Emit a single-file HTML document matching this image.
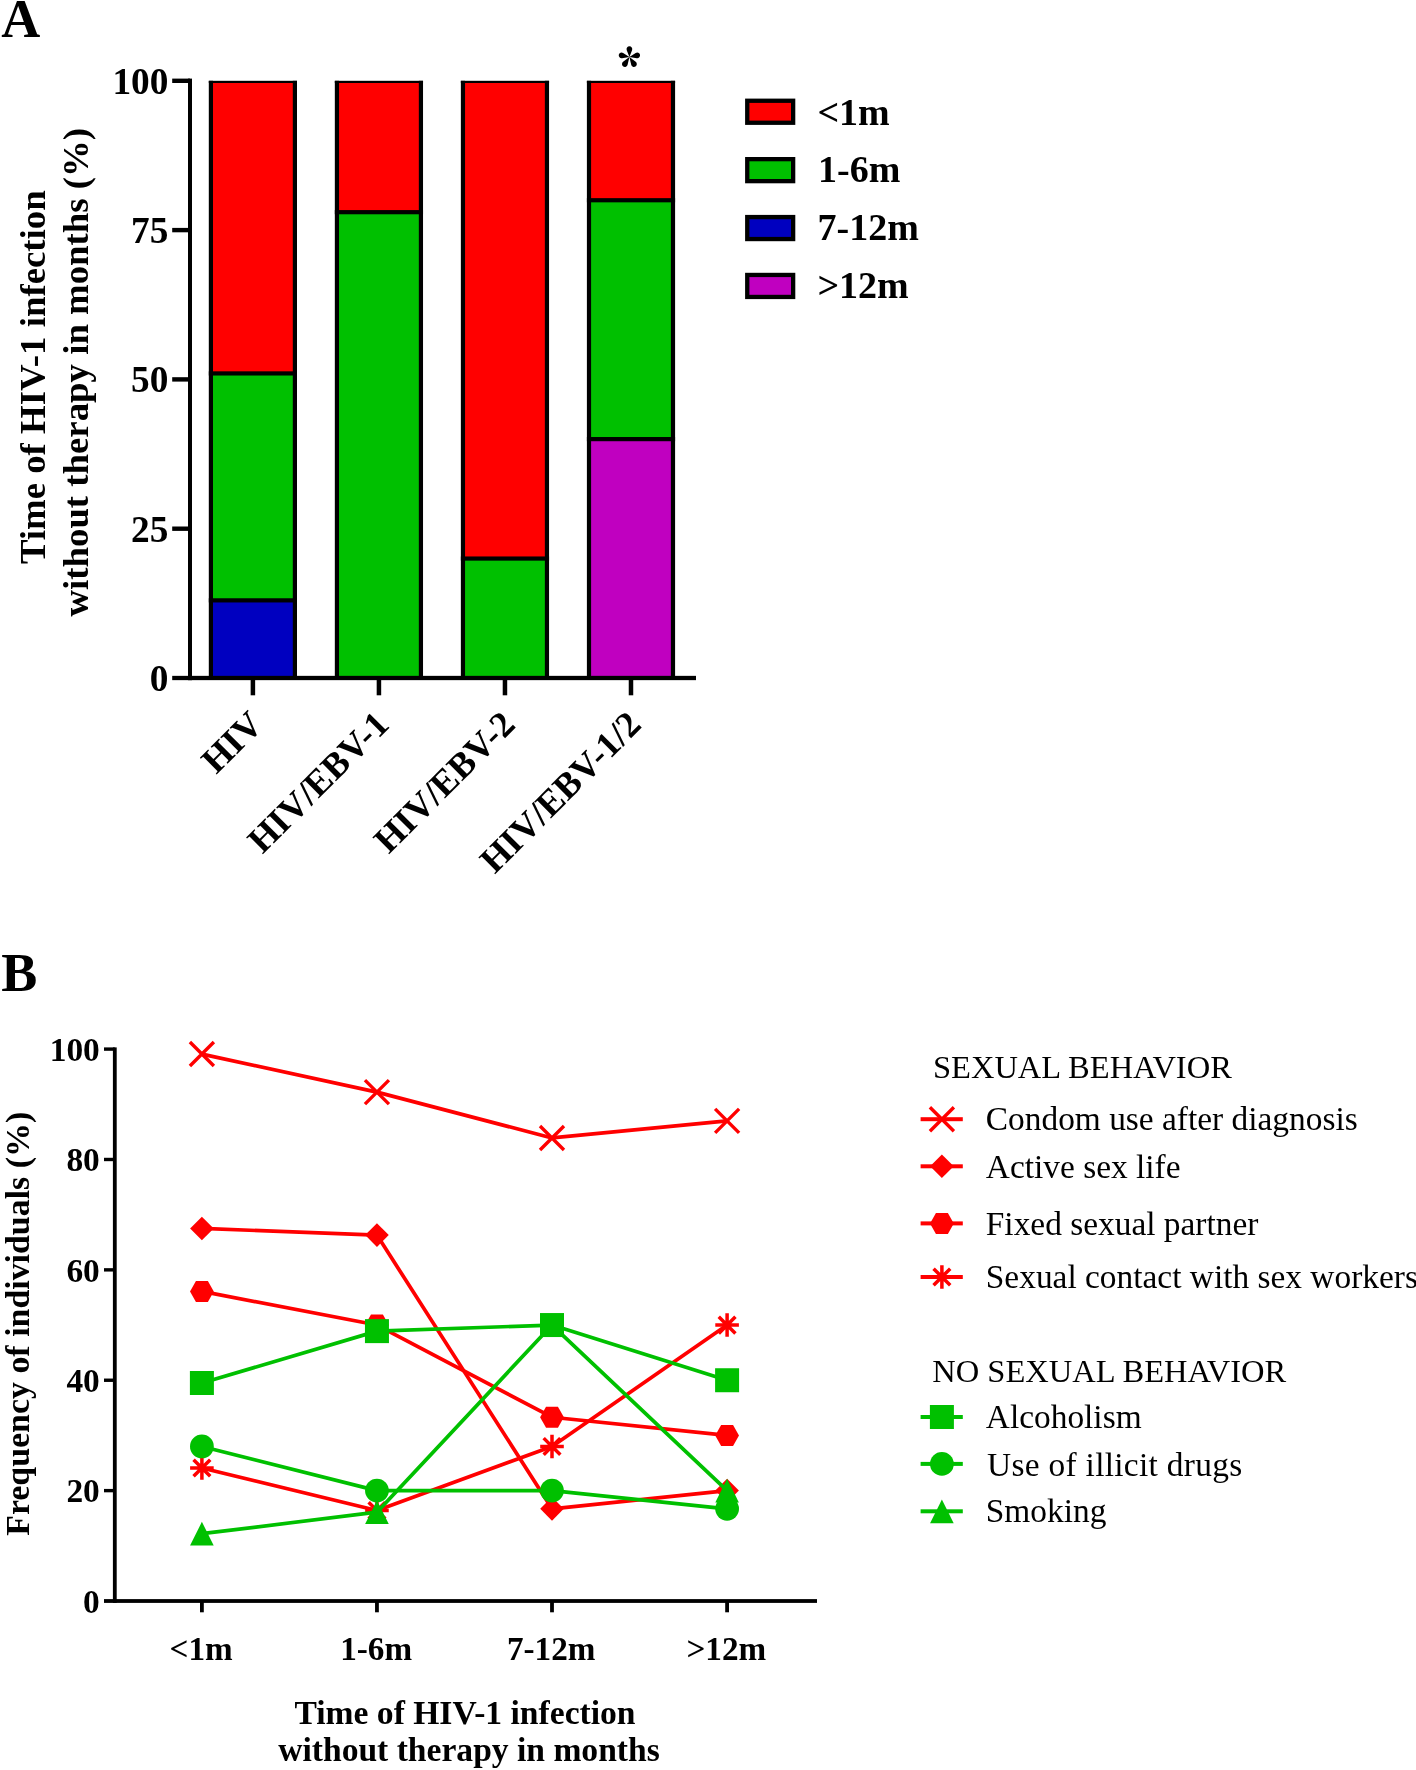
<!DOCTYPE html>
<html>
<head>
<meta charset="utf-8">
<style>
html,body{margin:0;padding:0;background:#fff;}
body{width:1416px;height:1770px;overflow:hidden;}
svg{display:block;will-change:transform;}
text{font-family:"Liberation Serif",serif;}
.b{font-weight:bold;}
</style>
</head>
<body>
<svg width="1416" height="1770" viewBox="0 0 1416 1770">
<text class="b" x="1.3" y="37.4" font-size="54">A</text>
<g font-size="36.8" text-anchor="middle">
<text class="b" transform="translate(44.7,377.2) rotate(-90)">Time of HIV-1 infection</text>
<text class="b" transform="translate(87.6,372.2) rotate(-90)">without therapy in months (%)</text>
</g>
<g font-size="37.3" text-anchor="end">
<text class="b" x="168.4" y="93.8">100</text>
<text class="b" x="168.4" y="243.1">75</text>
<text class="b" x="168.4" y="392.4">50</text>
<text class="b" x="168.4" y="541.7">25</text>
<text class="b" x="168.4" y="691.0">0</text>
</g>
<rect x="209.80" y="600.36" width="86.20" height="77.64" fill="#0000c0"/>
<rect x="209.80" y="373.43" width="86.20" height="226.94" fill="#00c000"/>
<rect x="209.80" y="82.30" width="86.20" height="291.13" fill="#ff0000"/>
<rect x="208.80" y="80.80" width="4.20" height="597.20" fill="#000"/>
<rect x="292.80" y="80.80" width="4.20" height="597.20" fill="#000"/>
<rect x="208.80" y="80.80" width="88.20" height="2.20" fill="#000"/>
<rect x="208.80" y="598.26" width="88.20" height="4.20" fill="#000"/>
<rect x="208.80" y="371.33" width="88.20" height="4.20" fill="#000"/>
<rect x="335.83" y="212.18" width="86.20" height="465.82" fill="#00c000"/>
<rect x="335.83" y="82.30" width="86.20" height="129.88" fill="#ff0000"/>
<rect x="334.83" y="80.80" width="4.20" height="597.20" fill="#000"/>
<rect x="418.83" y="80.80" width="4.20" height="597.20" fill="#000"/>
<rect x="334.83" y="80.80" width="88.20" height="2.20" fill="#000"/>
<rect x="334.83" y="210.08" width="88.20" height="4.20" fill="#000"/>
<rect x="461.86" y="558.56" width="86.20" height="119.44" fill="#00c000"/>
<rect x="461.86" y="82.30" width="86.20" height="476.26" fill="#ff0000"/>
<rect x="460.86" y="80.80" width="4.20" height="597.20" fill="#000"/>
<rect x="544.86" y="80.80" width="4.20" height="597.20" fill="#000"/>
<rect x="460.86" y="80.80" width="88.20" height="2.20" fill="#000"/>
<rect x="460.86" y="556.46" width="88.20" height="4.20" fill="#000"/>
<rect x="587.89" y="439.12" width="86.20" height="238.88" fill="#c000c0"/>
<rect x="587.89" y="200.24" width="86.20" height="238.88" fill="#00c000"/>
<rect x="587.89" y="82.30" width="86.20" height="117.94" fill="#ff0000"/>
<rect x="586.89" y="80.80" width="4.20" height="597.20" fill="#000"/>
<rect x="670.89" y="80.80" width="4.20" height="597.20" fill="#000"/>
<rect x="586.89" y="80.80" width="88.20" height="2.20" fill="#000"/>
<rect x="586.89" y="437.02" width="88.20" height="4.20" fill="#000"/>
<rect x="586.89" y="198.14" width="88.20" height="4.20" fill="#000"/>
<g fill="#000">
<rect x="188.00" y="78.60" width="4.00" height="601.60"/>
<rect x="172.2" y="78.60" width="17.80" height="4.4"/>
<rect x="172.2" y="227.90" width="17.80" height="4.4"/>
<rect x="172.2" y="377.20" width="17.80" height="4.4"/>
<rect x="172.2" y="526.50" width="17.80" height="4.4"/>
<rect x="172.2" y="675.85" width="523.80" height="4.3"/>
<rect x="250.65" y="678.00" width="4.5" height="17.30"/>
<rect x="376.68" y="678.00" width="4.5" height="17.30"/>
<rect x="502.71" y="678.00" width="4.5" height="17.30"/>
<rect x="628.74" y="678.00" width="4.5" height="17.30"/>
</g>
<path d="M629.40 57.00L626.74 50.18A2.85 2.85 0 1 1 632.06 50.18ZM629.40 57.00L635.68 52.94A2.85 2.85 0 1 1 636.79 58.15ZM629.40 57.00L622.01 58.15A2.85 2.85 0 1 1 623.12 52.94ZM629.40 57.00L635.70 61.77A2.85 2.85 0 1 1 631.20 64.69ZM629.40 57.00L627.60 64.69A2.85 2.85 0 1 1 623.10 61.77Z" fill="#000"/>
<g font-size="36.4" text-anchor="end">
<text class="b" transform="translate(264.8,726.5) rotate(-45)">HIV</text>
<text class="b" transform="translate(390.8,726.5) rotate(-45)">HIV/EBV-1</text>
<text class="b" transform="translate(516.9,726.5) rotate(-45)">HIV/EBV-2</text>
<text class="b" transform="translate(642.9,726.5) rotate(-45)">HIV/EBV-1/2</text>
</g>
<g stroke="#000" stroke-width="4.3">
<rect x="747.25" y="100.75" width="45.90" height="22.00" fill="#ff0000"/>
<rect x="747.25" y="159.15" width="45.90" height="22.00" fill="#00c000"/>
<rect x="747.25" y="217.05" width="45.90" height="22.00" fill="#0000c0"/>
<rect x="747.25" y="274.95" width="45.90" height="22.00" fill="#c000c0"/>
</g>
<g font-size="38">
<text class="b" x="817.4" y="124.5">&lt;1m</text>
<text class="b" x="818.0" y="182.0">1-6m</text>
<text class="b" x="817.5" y="240.3">7-12m</text>
<text class="b" x="817.4" y="298.3">&gt;12m</text>
</g>
<text class="b" x="1.3" y="990.5" font-size="54">B</text>
<text class="b" font-size="33.9" text-anchor="middle" transform="translate(28.9,1323.8) rotate(-90)">Frequency of individuals (%)</text>
<g font-size="33.4" text-anchor="end">
<text class="b" x="99.8" y="1060.7">100</text>
<text class="b" x="99.8" y="1171.1">80</text>
<text class="b" x="99.8" y="1281.5">60</text>
<text class="b" x="99.8" y="1391.8">40</text>
<text class="b" x="99.8" y="1502.2">20</text>
<text class="b" x="99.8" y="1612.6">0</text>
</g>
<g font-size="33.2" text-anchor="middle">
<text class="b" x="201.1" y="1660.3">&lt;1m</text>
<text class="b" x="376.1" y="1660.3">1-6m</text>
<text class="b" x="551.2" y="1660.3">7-12m</text>
<text class="b" x="726.3" y="1660.3">&gt;12m</text>
</g>
<g font-size="33.6" text-anchor="middle">
<text class="b" x="465" y="1724">Time of HIV-1 infection</text>
<text class="b" x="469" y="1760.8">without therapy in months</text>
</g>
<polyline points="201.90,1054.07 376.95,1092.15 552.00,1137.96 727.10,1120.85" stroke="#ff0000" stroke-width="3.70" fill="none" stroke-linejoin="round"/>
<path d="M189.90 1042.07L213.90 1066.07M189.90 1066.07L213.90 1042.07" stroke="#ff0000" stroke-width="3.4" fill="none"/>
<path d="M364.95 1080.15L388.95 1104.15M364.95 1104.15L388.95 1080.15" stroke="#ff0000" stroke-width="3.4" fill="none"/>
<path d="M540.00 1125.96L564.00 1149.96M540.00 1149.96L564.00 1125.96" stroke="#ff0000" stroke-width="3.4" fill="none"/>
<path d="M715.10 1108.85L739.10 1132.85M715.10 1132.85L739.10 1108.85" stroke="#ff0000" stroke-width="3.4" fill="none"/>
<polyline points="201.90,1228.47 376.95,1235.09 552.00,1508.83 727.10,1490.62" stroke="#ff0000" stroke-width="3.70" fill="none" stroke-linejoin="round"/>
<path d="M201.90 1216.67L213.70 1228.47L201.90 1240.27L190.10 1228.47Z" fill="#ff0000"/>
<path d="M376.95 1223.29L388.75 1235.09L376.95 1246.89L365.15 1235.09Z" fill="#ff0000"/>
<path d="M552.00 1497.03L563.80 1508.83L552.00 1520.63L540.20 1508.83Z" fill="#ff0000"/>
<path d="M727.10 1478.82L738.90 1490.62L727.10 1502.42L715.30 1490.62Z" fill="#ff0000"/>
<polyline points="201.90,1291.38 376.95,1325.05 552.00,1417.22 727.10,1435.43" stroke="#ff0000" stroke-width="3.70" fill="none" stroke-linejoin="round"/>
<path d="M190.00 1291.38L195.95 1280.88L207.85 1280.88L213.80 1291.38L207.85 1301.88L195.95 1301.88Z" fill="#ff0000"/>
<path d="M365.05 1325.05L371.00 1314.55L382.90 1314.55L388.85 1325.05L382.90 1335.55L371.00 1335.55Z" fill="#ff0000"/>
<path d="M540.10 1417.22L546.05 1406.72L557.95 1406.72L563.90 1417.22L557.95 1427.72L546.05 1427.72Z" fill="#ff0000"/>
<path d="M715.20 1435.43L721.15 1424.93L733.05 1424.93L739.00 1435.43L733.05 1445.93L721.15 1445.93Z" fill="#ff0000"/>
<polyline points="201.90,1467.99 376.95,1510.49 552.00,1446.47 727.10,1325.05" stroke="#ff0000" stroke-width="3.70" fill="none" stroke-linejoin="round"/>
<path d="M190.10 1467.99L213.70 1467.99M201.90 1456.19L201.90 1479.79M193.56 1459.65L210.24 1476.34M193.56 1476.34L210.24 1459.65" stroke="#ff0000" stroke-width="3.5" fill="none"/>
<path d="M365.15 1510.49L388.75 1510.49M376.95 1498.69L376.95 1522.29M368.61 1502.14L385.29 1518.83M368.61 1518.83L385.29 1502.14" stroke="#ff0000" stroke-width="3.5" fill="none"/>
<path d="M540.20 1446.47L563.80 1446.47M552.00 1434.67L552.00 1458.27M543.66 1438.12L560.34 1454.81M543.66 1454.81L560.34 1438.12" stroke="#ff0000" stroke-width="3.5" fill="none"/>
<path d="M715.30 1325.05L738.90 1325.05M727.10 1313.25L727.10 1336.85M718.76 1316.71L735.44 1333.39M718.76 1333.39L735.44 1316.71" stroke="#ff0000" stroke-width="3.5" fill="none"/>
<polyline points="201.90,1383.00 376.95,1331.12 552.00,1325.05 727.10,1380.24" stroke="#00c000" stroke-width="3.70" fill="none" stroke-linejoin="round"/>
<rect x="189.90" y="1371.00" width="24.00" height="24.00" fill="#00c000"/>
<rect x="364.95" y="1319.12" width="24.00" height="24.00" fill="#00c000"/>
<rect x="540.00" y="1313.05" width="24.00" height="24.00" fill="#00c000"/>
<rect x="715.10" y="1368.24" width="24.00" height="24.00" fill="#00c000"/>
<polyline points="201.90,1446.47 376.95,1490.62 552.00,1490.62 727.10,1508.83" stroke="#00c000" stroke-width="3.70" fill="none" stroke-linejoin="round"/>
<circle cx="201.90" cy="1446.47" r="11.9" fill="#00c000"/>
<circle cx="376.95" cy="1490.62" r="11.9" fill="#00c000"/>
<circle cx="552.00" cy="1490.62" r="11.9" fill="#00c000"/>
<circle cx="727.10" cy="1508.83" r="11.9" fill="#00c000"/>
<polyline points="201.90,1533.67 376.95,1512.14 552.00,1325.05 727.10,1490.62" stroke="#00c000" stroke-width="3.70" fill="none" stroke-linejoin="round"/>
<path d="M201.90 1521.77L213.70 1545.57L190.10 1545.57Z" fill="#00c000"/>
<path d="M376.95 1500.24L388.75 1524.04L365.15 1524.04Z" fill="#00c000"/>
<path d="M552.00 1313.15L563.80 1336.95L540.20 1336.95Z" fill="#00c000"/>
<path d="M727.10 1478.72L738.90 1502.52L715.30 1502.52Z" fill="#00c000"/>
<g fill="#000">
<rect x="112.90" y="1047.40" width="3.8" height="555.50"/>
<rect x="104" y="1047.40" width="10.80" height="3.4"/>
<rect x="104" y="1157.78" width="10.80" height="3.4"/>
<rect x="104" y="1268.16" width="10.80" height="3.4"/>
<rect x="104" y="1378.54" width="10.80" height="3.4"/>
<rect x="104" y="1488.92" width="10.80" height="3.4"/>
<rect x="104" y="1599.10" width="713.00" height="3.8"/>
<rect x="200.00" y="1601.00" width="3.8" height="11.30"/>
<rect x="375.05" y="1601.00" width="3.8" height="11.30"/>
<rect x="550.10" y="1601.00" width="3.8" height="11.30"/>
<rect x="725.20" y="1601.00" width="3.8" height="11.30"/>
</g>
<g font-size="32.5">
<text x="933" y="1078">SEXUAL BEHAVIOR</text>
<text x="932.3" y="1382.1">NO SEXUAL BEHAVIOR</text>
</g>
<g font-size="33.4">
<rect x="920.6" y="1117.20" width="42.2" height="4.0" fill="#ff0000"/>
<path d="M929.90 1107.20L953.90 1131.20M929.90 1131.20L953.90 1107.20" stroke="#ff0000" stroke-width="3.4" fill="none"/>
<text x="985.8" y="1130.1">Condom use after diagnosis</text>
<rect x="920.6" y="1164.30" width="42.2" height="4.0" fill="#ff0000"/>
<path d="M941.90 1154.50L953.70 1166.30L941.90 1178.10L930.10 1166.30Z" fill="#ff0000"/>
<text x="985.8" y="1177.5">Active sex life</text>
<rect x="920.6" y="1221.40" width="42.2" height="4.0" fill="#ff0000"/>
<path d="M930.00 1223.40L935.95 1212.90L947.85 1212.90L953.80 1223.40L947.85 1233.90L935.95 1233.90Z" fill="#ff0000"/>
<text x="985.8" y="1235.1">Fixed sexual partner</text>
<rect x="920.6" y="1275.00" width="42.2" height="4.0" fill="#ff0000"/>
<path d="M930.10 1277.00L953.70 1277.00M941.90 1265.20L941.90 1288.80M933.56 1268.66L950.24 1285.34M933.56 1285.34L950.24 1268.66" stroke="#ff0000" stroke-width="3.5" fill="none"/>
<text x="985.8" y="1287.9">Sexual contact with sex workers</text>
<rect x="920.6" y="1415.00" width="42.2" height="4.0" fill="#00c000"/>
<rect x="929.90" y="1405.00" width="24.00" height="24.00" fill="#00c000"/>
<text x="985.8" y="1427.6">Alcoholism</text>
<rect x="920.6" y="1461.90" width="42.2" height="4.0" fill="#00c000"/>
<circle cx="941.90" cy="1463.90" r="11.9" fill="#00c000"/>
<text x="987.0" y="1476.2" textLength="255.2" lengthAdjust="spacing">Use of illicit drugs</text>
<rect x="920.6" y="1509.30" width="42.2" height="4.0" fill="#00c000"/>
<path d="M941.90 1499.40L953.70 1523.20L930.10 1523.20Z" fill="#00c000"/>
<text x="985.8" y="1521.8">Smoking</text>
</g>
</svg>
</body>
</html>
